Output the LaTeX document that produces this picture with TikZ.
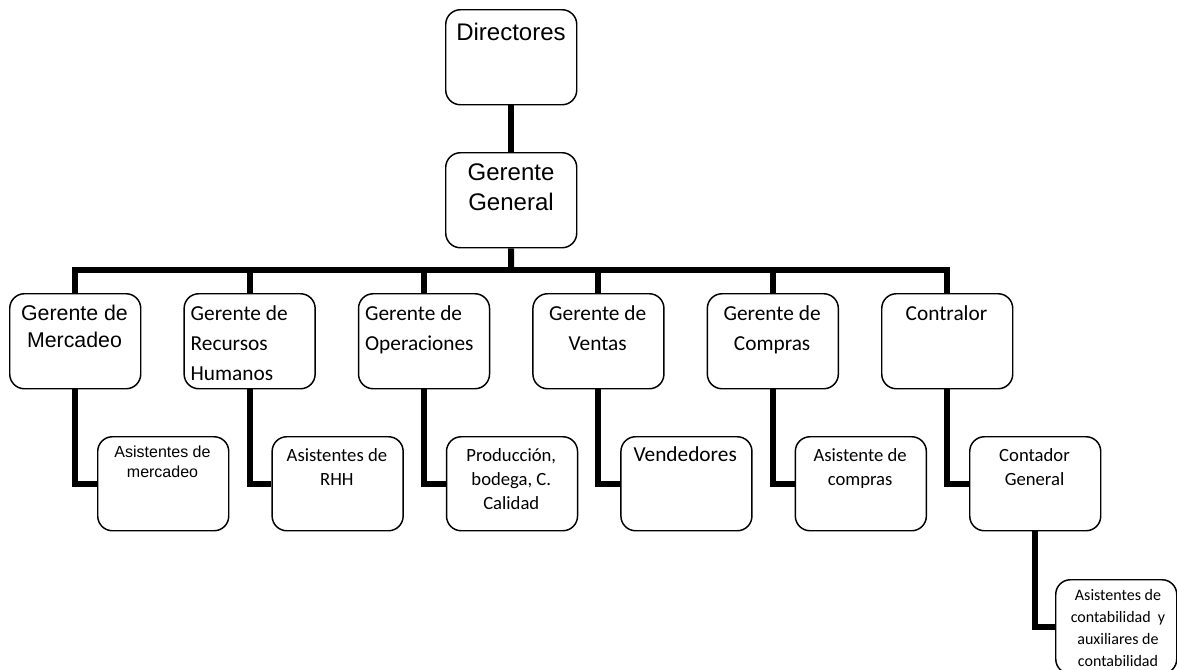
\documentclass[tikz,border=0pt]{standalone}
\usepackage{fontspec}
\newfontfamily\arialf{Liberation Sans}
\newfontfamily\calf{Carlito}

\tikzset{
    box/.style={draw, line width=1.1pt, rounded corners=11pt, fill=white, inner sep=0pt,
        anchor=north west, minimum width=98.25pt, minimum height=71.25pt},
    link/.style={line width=4.5pt, line join=miter},
    topA/.style={font=\arialf\fontsize{18}{22.5}\selectfont, align=center, anchor=base, inner sep=0pt},
    midA/.style={font=\arialf\fontsize{16}{20.25}\selectfont, align=center, anchor=base, inner sep=0pt},
    midC/.style={font=\calf\fontsize{16}{22.5}\selectfont, align=center, anchor=base, inner sep=0pt},
    midCl/.style={midC, align=left, anchor=base west},
    lowA/.style={font=\arialf\fontsize{12}{15}\selectfont, align=center, anchor=base, inner sep=0pt},
    lowC/.style={font=\calf\fontsize{14}{18}\selectfont, align=center, anchor=base, inner sep=0pt},
    auxC/.style={font=\calf\fontsize{12}{16.5}\selectfont, align=center, anchor=base, inner sep=0pt}
}

\begin{document}
\begin{tikzpicture}[x=0.75pt, y=-0.75pt]
    \clip[use as bounding box] (0,0) rectangle (1177,669);
    % Top (text placed by the baseline of its last line)
    \node[box] (Dir) at (445,9) {};
    \node[topA] (Dir-t) at (511,40) {Directores};
    \node[box] (GG) at (445,152) {};
    \node[topA] (GG-t) at (511,210) {Gerente\\General};
    % Managers and assistants
    \foreach \i in {1,...,6} {
        \node[box] (Mgr-\i) at ({9+174.4*(\i-1)},293) {};
        \node[box, minimum height=70.5pt] (Asst-\i) at ({97+174.4*(\i-1)},436) {};
    }
    \node[midA] (Mgr-1-t) at (74.5,347) {Gerente de\\Mercadeo};
    \node[midCl] (Mgr-2-t) at (190.4,380.7) {Gerente de\\Recursos\\Humanos};
    \node[midCl] (Mgr-3-t) at (364.8,350.7) {Gerente de\\Operaciones};
    \node[midC] (Mgr-4-t) at (597.7,350.5) {Gerente de\\Ventas};
    \node[midC] (Mgr-5-t) at (772.1,350.5) {Gerente de\\Compras};
    \node[midC] (Mgr-6-t) at (946.5,320.5) {Contralor};
    \node[lowA] (Asst-1-t) at (162.5,477) {Asistentes de\\mercadeo};
    \node[lowC] (Asst-2-t) at (336.9,485.5) {Asistentes de\\RHH};
    \node[lowC] (Asst-3-t) at (511.3,509.5) {Producción,\\bodega, C.\\Calidad};
    \node[midC] (Asst-4-t) at (685.2,461.7) {Vendedores};
    \node[lowC] (Asst-5-t) at (860.1,485.5) {Asistente de\\compras};
    \node[lowC] (Asst-6-t) at (1034.5,485) {Contador\\General};
    % Last level
    \node[box, minimum width=90.75pt, minimum height=70.5pt] (Aux) at (1055,579) {};
    \node[auxC] (Aux-t) at (1118,666) {Asistentes de\\contabilidad\ \ y\\auxiliares de\\contabilidad};
    % Lines
    \coordinate (Bar) at (511,270);
    \draw[link] (Dir.south) -- (GG.north);
    \draw[link] (GG.south) -- (Bar);
    \draw[link] (Mgr-1.north) |- (Bar) -| (Mgr-6.north);
    \foreach \i in {2,...,5} {
        \draw[link] (Mgr-\i.north) -- (Mgr-\i.north |- Bar);
    }
    \foreach \i in {1,...,6} {
        \draw[link] (Mgr-\i.south) |- (Asst-\i.west);
    }
    \draw[link] (Asst-6.south) |- (Aux.west);
\end{tikzpicture}
\end{document}
